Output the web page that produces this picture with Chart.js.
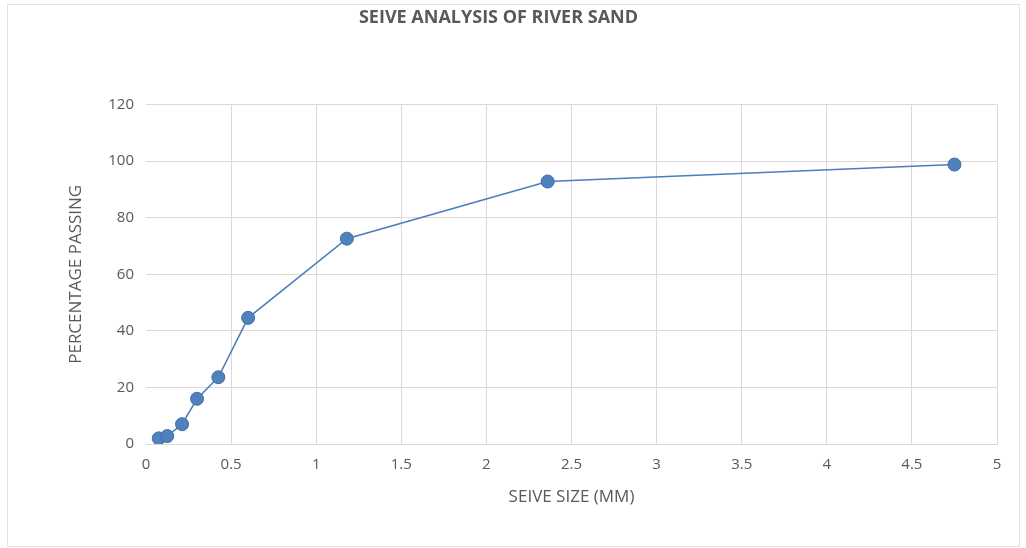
<!DOCTYPE html>
<html>
<head>
<meta charset="utf-8">
<script src="https://cdn.jsdelivr.net/npm/chart.js@4.4.0/dist/chart.umd.min.js"></script>
<style>
  html, body { margin: 0; padding: 0; background: #fff; }
  #wrap { width: 1026px; height: 548px; position: relative; }
</style>
</head>
<body>
<div id="wrap"><canvas id="chart" width="1026" height="548"></canvas></div>
<script>
// sieve sizes (mm) and percentage passing
const sieveSizes = [0.075, 0.125, 0.212, 0.3, 0.425, 0.6, 1.18, 2.36, 4.75];
const percentPassing = [2, 2.8, 7, 16, 23.6, 44.6, 72.6, 92.8, 98.8];

const xTicks = [0, 0.5, 1, 1.5, 2, 2.5, 3, 3.5, 4, 4.5, 5];
const yTicks = [0, 20, 40, 60, 80, 100, 120];

const points = sieveSizes.map((s, i) => ({ x: s, y: percentPassing[i] }));

const textColor = '#595959';
const gridColor = '#d9d9d9';
const fontFamily = '"Open Sans", "Liberation Sans", sans-serif';

// faint frame round the whole chart, like the original
const framePlugin = {
  id: 'frame',
  beforeDraw(chart) {
    const ctx = chart.ctx;
    ctx.save();
    ctx.fillStyle = '#fff';
    ctx.fillRect(0, 0, chart.width, chart.height);
    ctx.strokeStyle = '#e3e3e3';
    ctx.lineWidth = 1;
    ctx.strokeRect(7.5, 4.5, chart.width - 14, chart.height - 6);
    ctx.restore();
  }
};

new Chart(document.getElementById('chart').getContext('2d'), {
  type: 'scatter',
  data: {
    datasets: [{
      label: 'Percentage passing',
      data: points,
      showLine: true,
      borderColor: '#4a7ebb',
      backgroundColor: '#4f81bd',
      borderWidth: 1.5,
      pointRadius: 6.5,
      pointHoverRadius: 6.5,
      pointBorderColor: '#3f6fa8',
      pointBorderWidth: 1
    }]
  },
  options: {
    responsive: false,
    animation: false,
    layout: { padding: { left: 0, right: 29, top: 0, bottom: 0 } },
    plugins: {
      legend: { display: false },
      tooltip: { enabled: false },
      title: {
        display: true,
        text: 'SEIVE ANALYSIS OF RIVER SAND',
        color: textColor,
        font: { family: fontFamily, size: 18, weight: 'bold' },
        padding: { top: 7, bottom: 76 }
      }
    },
    scales: {
      x: {
        type: 'linear',
        min: 0,
        max: 5,
        afterBuildTicks(scale) { scale.ticks = xTicks.map(v => ({ value: v })); },
        afterFit(scale) { scale.height = 104; },
        ticks: {
          color: textColor,
          font: { family: fontFamily, size: 15 },
          padding: 12,
          callback: v => String(v)
        },
        grid: {
          color: ctx => (ctx.tick && ctx.tick.value === 0 ? 'rgba(0,0,0,0)' : gridColor),
          drawTicks: false
        },
        border: { display: true, color: gridColor },
        title: {
          display: true,
          text: 'SEIVE SIZE (MM)',
          color: textColor,
          font: { family: fontFamily, size: 17 },
          padding: { top: 0, bottom: 41 }
        }
      },
      y: {
        type: 'linear',
        min: 0,
        max: 120,
        afterBuildTicks(scale) { scale.ticks = yTicks.map(v => ({ value: v })); },
        afterFit(scale) { scale.width = 146; },
        ticks: {
          color: textColor,
          font: { family: fontFamily, size: 15 },
          padding: 12
        },
        grid: { color: gridColor, drawTicks: false },
        border: { display: false },
        title: {
          display: true,
          text: 'PERCENTAGE PASSING',
          color: textColor,
          font: { family: fontFamily, size: 17 },
          padding: { top: 66, bottom: 0 }
        }
      }
    }
  },
  plugins: [framePlugin]
});
</script>
</body>
</html>
